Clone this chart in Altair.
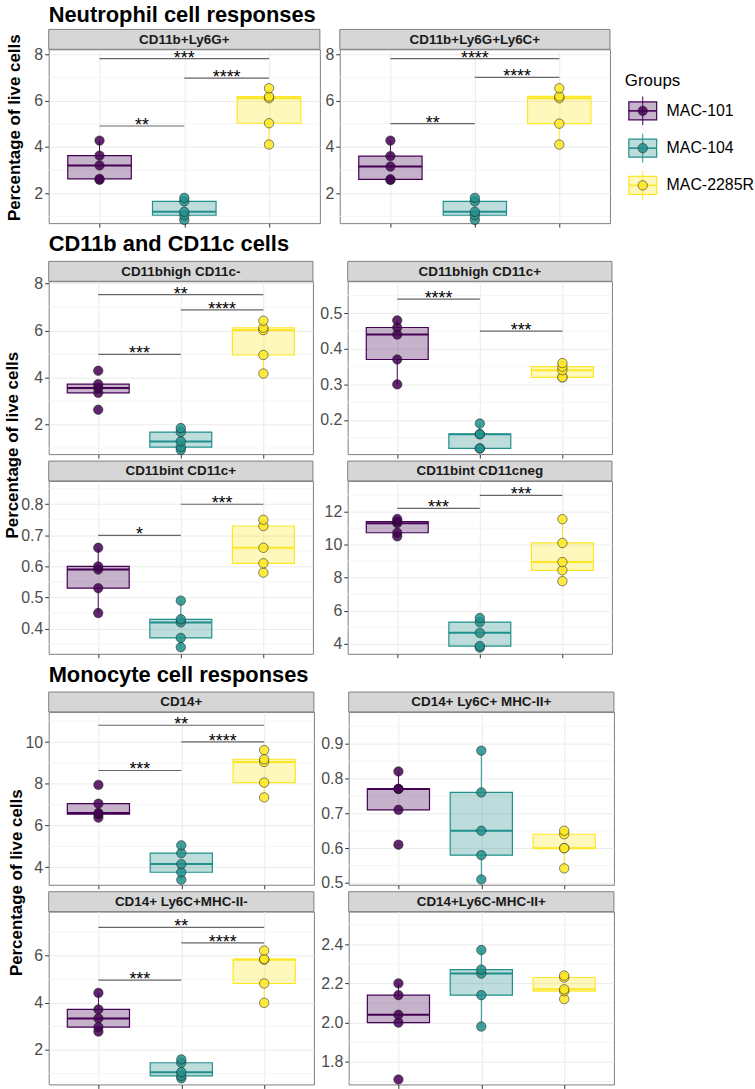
import altair as alt
import pandas as pd

GROUPS = ["MAC-101", "MAC-104", "MAC-2285R"]
COLORS = ["#440154", "#21908C", "#FDE725"]
FONT = "Liberation Sans"

# Percentage of live cells per animal, one list per group (MAC-101, MAC-104, MAC-2285R)
ly6g = [[2.58, 2.62, 3.20, 3.62, 4.27], [0.85, 1.05, 1.20, 1.65, 1.80], [4.10, 5.02, 6.10, 6.17, 6.53]]
ly6g_ly6c = [[2.57, 2.60, 3.15, 3.60, 4.27], [0.85, 1.05, 1.20, 1.65, 1.80], [4.10, 5.00, 6.10, 6.18, 6.53]]
cd11bhigh_cd11c_neg = [[2.63, 3.35, 3.56, 3.72, 4.29], [0.92, 1.04, 1.28, 1.68, 1.85], [4.17, 4.96, 6.02, 6.12, 6.42]]
cd11bhigh_cd11c_pos = [[0.30, 0.37, 0.44, 0.46, 0.48], [0.12, 0.12, 0.16, 0.16, 0.19], [0.32, 0.32, 0.34, 0.35, 0.36]]
cd11bint_cd11c_pos = [[0.45, 0.53, 0.59, 0.60, 0.66], [0.34, 0.37, 0.42, 0.43, 0.49], [0.58, 0.61, 0.66, 0.73, 0.75]]
cd11bint_cd11c_neg = [[10.50, 10.72, 11.30, 11.40, 11.55], [3.75, 3.85, 4.65, 5.30, 5.55], [7.78, 8.44, 8.94, 10.10, 11.54]]
cd14 = [[6.38, 6.55, 6.60, 7.05, 7.95], [3.40, 3.76, 4.15, 4.68, 5.05], [7.35, 8.06, 9.05, 9.18, 9.62]]
cd14_ly6c_mhc_pos = [[0.61, 0.71, 0.77, 0.77, 0.82], [0.51, 0.58, 0.65, 0.76, 0.88], [0.542, 0.60, 0.60, 0.64, 0.65]]
cd14_ly6c_mhc_neg = [[2.78, 2.97, 3.34, 3.72, 4.42], [0.80, 0.90, 1.06, 1.46, 1.60], [4.00, 4.82, 5.83, 5.86, 6.22]]
cd14_ly6cneg_mhc_pos = [[1.71, 2.00, 2.04, 2.14, 2.20], [1.98, 2.14, 2.25, 2.27, 2.37], [2.12, 2.16, 2.17, 2.23, 2.24]]

# Pairwise comparisons: (group a, group b, bracket height, significance)
ly6g_sig = [(1, 2, 4.90, "**"), (1, 3, 7.81, "***"), (2, 3, 6.97, "****")]
ly6g_ly6c_sig = [(1, 2, 5.00, "**"), (1, 3, 7.81, "****"), (2, 3, 7.00, "****")]
cd11bhigh_cd11c_neg_sig = [(1, 2, 4.99, "***"), (1, 3, 7.53, "**"), (2, 3, 6.88, "****")]
cd11bhigh_cd11c_pos_sig = [(1, 2, 0.54, "****"), (2, 3, 0.45, "***")]
cd11bint_cd11c_pos_sig = [(1, 2, 0.70, "*"), (2, 3, 0.80, "***")]
cd11bint_cd11c_neg_sig = [(1, 2, 12.20, "***"), (2, 3, 12.98, "***")]
cd14_sig = [(1, 2, 8.64, "***"), (1, 3, 10.81, "**"), (2, 3, 10.01, "****")]
cd14_ly6c_mhc_neg_sig = [(1, 2, 4.96, "***"), (1, 3, 7.20, "**"), (2, 3, 6.54, "****")]

GRID = "#ebebeb"
INK = "#333333"
color_scale = alt.Scale(domain=GROUPS, range=COLORS)


def box_stats(values):
    rows = []
    for i, (g, vals) in enumerate(zip(GROUPS, values)):
        s = pd.Series(vals)
        q1, med, q3 = s.quantile([0.25, 0.5, 0.75])
        iqr = q3 - q1
        lo = s[s >= q1 - 1.5 * iqr].min()
        hi = s[s <= q3 + 1.5 * iqr].max()
        rows.append(dict(group=g, x=i + 1, xl=i + 1 - 0.375, xr=i + 1 + 0.375,
                         q1=q1, med=med, q3=q3, lo=lo, hi=hi))
    return pd.DataFrame(rows)


def panel(name, values, sig, width, height, domain, ticks, fmt,
          section=None, section_y=-30, ytitle_x=-28.5, ytitle_y=None):
    step = ticks[1] - ticks[0]
    minor = [t - step / 2 for t in ticks] + [ticks[-1] + step / 2]
    minor = [m for m in minor if domain[0] <= m <= domain[1]]

    pts = pd.DataFrame([{"group": g, "x": i + 1, "value": v}
                        for i, g in enumerate(GROUPS) for v in values[i]])
    box = box_stats(values)

    xs = alt.Scale(domain=[0.4, 3.6], nice=False, zero=False)
    ys = alt.Scale(domain=domain, nice=False, zero=False)
    xaxis = alt.Axis(values=[1, 2, 3], labels=False, title=None, grid=True,
                     gridColor=GRID, gridWidth=1, ticks=True, tickSize=4,
                     tickColor=INK, tickWidth=1, domain=False)
    yaxis = alt.Axis(values=ticks, format=fmt, title=None, grid=True,
                     gridColor=GRID, gridWidth=1, ticks=True, tickSize=4,
                     tickColor=INK, tickWidth=1, labelFontSize=16,
                     labelColor="#4d4d4d", labelPadding=2, labelFont=FONT,
                     domain=False)

    def X(f):
        return alt.X(f, type="quantitative", scale=xs, axis=xaxis)

    def Y(f):
        return alt.Y(f, type="quantitative", scale=ys, axis=yaxis)

    col = alt.Color("group:N", scale=color_scale, legend=None)
    fill = alt.Fill("group:N", scale=color_scale, legend=None)
    stroke = alt.Stroke("group:N", scale=color_scale, legend=None)

    layers = []
    layers.append(alt.Chart(pd.DataFrame({"m": minor})).mark_rule(
        color="#f2f2f2", strokeWidth=0.8).encode(y=Y("m")))
    layers.append(alt.Chart(box).mark_rule(strokeWidth=1).encode(
        x=X("x"), y=Y("lo"), y2="q1", color=col))
    layers.append(alt.Chart(box).mark_rule(strokeWidth=1).encode(
        x=X("x"), y=Y("q3"), y2="hi", color=col))
    layers.append(alt.Chart(box).mark_rect(fillOpacity=0.3, strokeWidth=1.2).encode(
        x=X("xl"), x2="xr", y=Y("q1"), y2="q3", fill=fill, stroke=stroke))
    layers.append(alt.Chart(box).mark_rule(strokeWidth=2).encode(
        x=X("xl"), x2="xr", y=Y("med"), color=col))
    layers.append(alt.Chart(pts).mark_circle(
        size=90, fillOpacity=0.85, opacity=1, stroke="#1a1a1a",
        strokeWidth=0.7, strokeOpacity=0.75).encode(
        x=X("x"), y=Y("value"), fill=fill))

    if sig:
        br = pd.DataFrame([{"x1": a, "x2": b, "xm": (a + b) / 2, "y": h, "label": t}
                           for a, b, h, t in sig])
        layers.append(alt.Chart(br).mark_rule(color="#666666", strokeWidth=1.2).encode(
            x=X("x1"), x2="x2", y=Y("y")))
        layers.append(alt.Chart(br).mark_text(
            fontSize=18, baseline="alphabetic", dy=5, color="black", font=FONT).encode(
            x=X("xm"), y=Y("y"), text="label:N"))

    head = pd.DataFrame({"t": [name]})
    layers.append(alt.Chart(head).mark_rect(
        fill="#d6d6d6", stroke="#7f7f7f", strokeWidth=1).encode(
        x=alt.value(0), x2=alt.value(width), y=alt.value(-20), y2=alt.value(0)))
    layers.append(alt.Chart(head).mark_text(
        fontSize=13.5, fontWeight="bold", color="#1a1a1a", font=FONT).encode(
        x=alt.value(width / 2), y=alt.value(-9.5), text="t:N"))

    if section:
        layers.append(alt.Chart(pd.DataFrame({"t": [section]})).mark_text(
            align="left", baseline="alphabetic", fontSize=22, fontWeight="bold",
            color="black", font=FONT).encode(
            x=alt.value(0), y=alt.value(section_y), text="t:N"))
    if ytitle_y is not None:
        layers.append(alt.Chart(pd.DataFrame({"t": ["Percentage of live cells"]})).mark_text(
            angle=270, align="center", baseline="alphabetic", fontSize=17,
            fontWeight="bold", color="black", font=FONT).encode(
            x=alt.value(ytitle_x), y=alt.value(ytitle_y), text="t:N"))

    return alt.layer(*layers).properties(width=width, height=height)


def legend_chart(height):
    leg = pd.DataFrame({"group": GROUPS})
    ly = alt.Y("group:N", scale=alt.Scale(type="point", domain=GROUPS, range=[62, 137],
                                          padding=0), axis=None)
    fill = alt.Fill("group:N", scale=color_scale, legend=None)
    stroke = alt.Stroke("group:N", scale=color_scale, legend=None)
    cx = alt.value(13)
    base = alt.Chart(leg)
    whisker = base.mark_point(shape="M0,-1V1", size=841, filled=False,
                              strokeWidth=1, opacity=1).encode(x=cx, y=ly, stroke=stroke)
    rect = base.mark_point(shape="M-1,-0.643H1V0.643H-1Z", size=784, filled=True,
                           fillOpacity=0.3, strokeOpacity=1, strokeWidth=1.2).encode(
        x=cx, y=ly, fill=fill, stroke=stroke)
    med = base.mark_point(shape="M-1,0H1", size=784, filled=False,
                          strokeWidth=1.6, opacity=1).encode(x=cx, y=ly, stroke=stroke)
    dot = base.mark_circle(size=90, fillOpacity=0.85, opacity=1, stroke="#1a1a1a",
                           strokeWidth=0.7, strokeOpacity=0.75).encode(x=cx, y=ly, fill=fill)
    lab = base.mark_text(align="left", baseline="middle", fontSize=16,
                         color="black", font=FONT).encode(x=alt.value(37), y=ly, text="group:N")
    ttl = alt.Chart(pd.DataFrame({"t": ["Groups"]})).mark_text(
        align="left", baseline="middle", fontSize=17, color="black", font=FONT).encode(
        x=alt.value(-5), y=alt.value(32), text="t:N")
    return alt.layer(whisker, rect, med, dot, lab, ttl).properties(
        width=118, height=height, view=alt.ViewBackground(stroke="transparent"))


p1 = panel("CD11b+Ly6G+", ly6g, ly6g_sig, 273, 175, [0.71, 8.21], [2, 4, 6, 8], "d",
           section="Neutrophil cell responses", section_y=-27.5, ytitle_x=-28.5, ytitle_y=79)
p2 = panel("CD11b+Ly6G+Ly6C+", ly6g_ly6c, ly6g_ly6c_sig, 272, 175, [0.71, 8.21], [2, 4, 6, 8], "d")

q1 = panel("CD11bhigh CD11c-", cd11bhigh_cd11c_neg, cd11bhigh_cd11c_neg_sig, 266, 174,
           [0.74, 8.1], [2, 4, 6, 8], "d", section="CD11b and CD11c cells",
           ytitle_x=-31, ytitle_y=165)
q2 = panel("CD11bhigh CD11c+", cd11bhigh_cd11c_pos, cd11bhigh_cd11c_pos_sig, 266, 174,
           [0.104, 0.59], [0.2, 0.3, 0.4, 0.5], ".1f")
q3 = panel("CD11bint CD11c+", cd11bint_cd11c_pos, cd11bint_cd11c_pos_sig, 266, 174,
           [0.319, 0.875], [0.4, 0.5, 0.6, 0.7, 0.8], ".1f")
q4 = panel("CD11bint CD11cneg", cd11bint_cd11c_neg, cd11bint_cd11c_neg_sig, 266, 174,
           [3.38, 13.86], [4, 6, 8, 10, 12], "d")

r1 = panel("CD14+", cd14, cd14_sig, 267, 174, [3.16, 11.45], [4, 6, 8, 10], "d",
           section="Monocyte cell responses", ytitle_x=-26.5, ytitle_y=172)
r2 = panel("CD14+ Ly6C+ MHC-II+", cd14_ly6c_mhc_pos, [], 267, 174,
           [0.495, 0.991], [0.5, 0.6, 0.7, 0.8, 0.9], ".1f")
r3 = panel("CD14+ Ly6C+MHC-II-", cd14_ly6c_mhc_neg, cd14_ly6c_mhc_neg_sig, 267, 174,
           [0.54, 7.87], [2, 4, 6], "d")
r4 = panel("CD14+Ly6C-MHC-II+", cd14_ly6cneg_mhc_pos, [], 267, 174,
           [1.685, 2.566], [1.8, 2.0, 2.2, 2.4], ".1f")

row1 = alt.hconcat(p1, p2, legend_chart(175), spacing=20, bounds="flush")
sec2 = alt.concat(q1, q2, q3, q4, columns=2,
                  spacing=alt.RowColnumber(row=27, column=35), bounds="flush")
sec3 = alt.concat(r1, r2, r3, r4, columns=2,
                  spacing=alt.RowColnumber(row=27, column=35), bounds="flush")

chart = alt.vconcat(row1, sec2, sec3, spacing=4.5).properties(
    padding={"left": 3, "top": 0, "right": 0, "bottom": 0}
).configure(background="white", font=FONT).configure_view(stroke="#7f7f7f", strokeWidth=1)

chart.save("out.html", embed_options={"renderer": "svg", "actions": False})
